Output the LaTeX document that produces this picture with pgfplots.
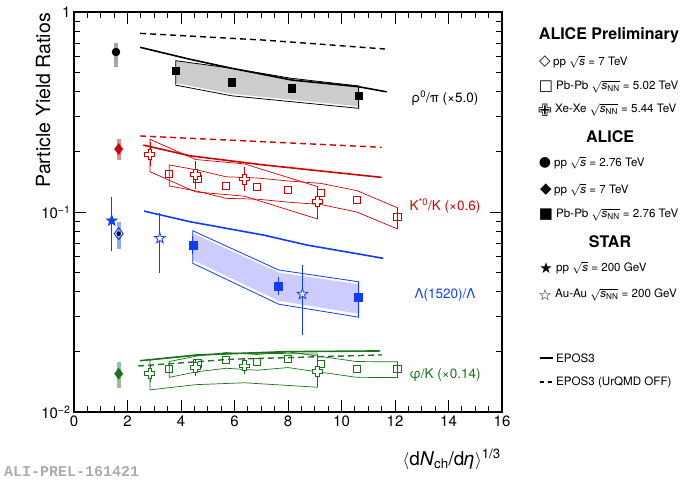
\documentclass[border=0pt]{standalone}
\usepackage{pgfplots}
\pgfplotsset{compat=1.18}
\usepackage{fontspec}
\setmainfont{TeX Gyre Heros}
\newfontfamily\symfont{DejaVu Sans}
\newfontfamily\alifont{Liberation Mono}
\usetikzlibrary{plotmarks}
\definecolor{cred}{RGB}{210,0,0}
\definecolor{cblue}{RGB}{15,60,255}
\definecolor{cgreen}{RGB}{25,115,25}
\definecolor{cbfill}{RGB}{204,204,255}
\definecolor{cgfill}{RGB}{204,204,204}
\pgfdeclareplotmark{ocross}{%
  \pgfpathmoveto{\pgfqpoint{-0.35\pgfplotmarksize}{\pgfplotmarksize}}%
  \pgfpathlineto{\pgfqpoint{0.35\pgfplotmarksize}{\pgfplotmarksize}}%
  \pgfpathlineto{\pgfqpoint{0.35\pgfplotmarksize}{0.35\pgfplotmarksize}}%
  \pgfpathlineto{\pgfqpoint{\pgfplotmarksize}{0.35\pgfplotmarksize}}%
  \pgfpathlineto{\pgfqpoint{\pgfplotmarksize}{-0.35\pgfplotmarksize}}%
  \pgfpathlineto{\pgfqpoint{0.35\pgfplotmarksize}{-0.35\pgfplotmarksize}}%
  \pgfpathlineto{\pgfqpoint{0.35\pgfplotmarksize}{-\pgfplotmarksize}}%
  \pgfpathlineto{\pgfqpoint{-0.35\pgfplotmarksize}{-\pgfplotmarksize}}%
  \pgfpathlineto{\pgfqpoint{-0.35\pgfplotmarksize}{-0.35\pgfplotmarksize}}%
  \pgfpathlineto{\pgfqpoint{-\pgfplotmarksize}{-0.35\pgfplotmarksize}}%
  \pgfpathlineto{\pgfqpoint{-\pgfplotmarksize}{0.35\pgfplotmarksize}}%
  \pgfpathlineto{\pgfqpoint{-0.35\pgfplotmarksize}{0.35\pgfplotmarksize}}%
  \pgfpathclose
  \pgfusepathqfillstroke}
\pgfdeclareplotmark{fstar}{%
  \pgfpathmoveto{\pgfpointpolar{90}{\pgfplotmarksize}}%
  \pgfpathlineto{\pgfpointpolar{126}{0.4\pgfplotmarksize}}%
  \pgfpathlineto{\pgfpointpolar{162}{\pgfplotmarksize}}%
  \pgfpathlineto{\pgfpointpolar{198}{0.4\pgfplotmarksize}}%
  \pgfpathlineto{\pgfpointpolar{234}{\pgfplotmarksize}}%
  \pgfpathlineto{\pgfpointpolar{270}{0.4\pgfplotmarksize}}%
  \pgfpathlineto{\pgfpointpolar{306}{\pgfplotmarksize}}%
  \pgfpathlineto{\pgfpointpolar{342}{0.4\pgfplotmarksize}}%
  \pgfpathlineto{\pgfpointpolar{18}{\pgfplotmarksize}}%
  \pgfpathlineto{\pgfpointpolar{54}{0.4\pgfplotmarksize}}%
  \pgfpathclose
  \pgfusepathqfillstroke}
\newcommand\rs[1]{$\sqrt{\hbox{\itshape #1}}$}
\begin{document}
\begin{tikzpicture}
\path[use as bounding box] (0,0) rectangle (682pt,485pt);
\begin{axis}[
  at={(74pt,73pt)}, anchor=south west,
  scale only axis, width=428pt, height=400pt,
  xmin=0, xmax=16, ymin=0.01, ymax=1, ymode=log,
  xtick={0,2,...,16}, minor x tick num=3,
  ytick={0.01,0.1,1},
  yticklabels={10\textsuperscript{−2},10\textsuperscript{−1},1},
  minor ytick={0.02,0.03,0.04,0.05,0.06,0.07,0.08,0.09,0.2,0.3,0.4,0.5,0.6,0.7,0.8,0.9},
  tick align=inside,
  major tick length=12pt, minor tick length=6pt,
  axis line style={line width=1.2pt},
  every tick/.style={black, line width=0.8pt},
  tick label style={font=\fontsize{15}{15}\selectfont},
  /pgf/number format/assume math mode=true,
]
% ---- bands ----
\addplot[fill=cgfill, draw=none] coordinates {(3.80,0.571)(5.90,0.523)(8.14,0.466)(10.64,0.427)(10.64,0.338)(8.14,0.364)(5.90,0.390)(3.80,0.441)} -- cycle;
\addplot[black, line width=0.8pt] coordinates {(3.80,0.571)(5.90,0.523)(8.14,0.466)(10.64,0.427)(10.64,0.330)(8.14,0.356)(5.90,0.381)(3.80,0.431)} -- cycle;
\addplot[fill=cbfill, draw=none] coordinates {(4.44,0.0782)(7.65,0.0498)(10.64,0.0435)(10.64,0.0310)(7.65,0.0360)(4.44,0.0576)} -- cycle;
\addplot[cblue, line width=0.8pt] coordinates {(4.44,0.0806)(7.65,0.0513)(10.64,0.0448)(10.64,0.0298)(7.65,0.0346)(4.44,0.0554)} -- cycle;
\addplot[cred, line width=0.7pt] coordinates {(2.84,0.231)(4.55,0.183)(6.37,0.174)(9.10,0.134)(9.10,0.0923)(6.37,0.120)(4.55,0.126)(2.84,0.159)} -- cycle;
\addplot[cred, line width=0.7pt] coordinates {(3.56,0.172)(4.62,0.162)(5.69,0.150)(6.83,0.148)(8.0,0.143)(9.23,0.139)(10.57,0.128)(12.09,0.105)(12.09,0.0823)(10.57,0.100)(9.23,0.109)(8.0,0.112)(6.83,0.116)(5.69,0.117)(4.62,0.127)(3.56,0.135)} -- cycle;
\addplot[cgreen, line width=0.7pt] coordinates {(2.84,0.0182)(4.55,0.0192)(6.37,0.0197)(9.10,0.0195)(9.10,0.0133)(6.37,0.0140)(4.55,0.0137)(2.84,0.0129)} -- cycle;
\addplot[cgreen, line width=0.7pt] coordinates {(3.56,0.01788)(4.62,0.01908)(5.69,0.01984)(6.83,0.0194)(8.0,0.0200)(9.23,0.01894)(10.57,0.01788)(12.09,0.01782)(12.09,0.01486)(10.57,0.01491)(9.23,0.0158)(8.0,0.01668)(6.83,0.01618)(5.69,0.01655)(4.62,0.01591)(3.56,0.01491)} -- cycle;
% ---- EPOS3 lines ----
\addplot[black, line width=1.6pt] coordinates {(2.47,0.666)(4.34,0.580)(5.90,0.523)(8.14,0.457)(10.64,0.423)(11.69,0.399)};
\addplot[black, line width=1.4pt, dash pattern=on 6pt off 4pt] coordinates {(2.47,0.782)(4.5,0.756)(7.08,0.724)(9.5,0.686)(11.63,0.653)};
\addplot[cred, line width=1.6pt] coordinates {(2.59,0.216)(4.34,0.191)(7.08,0.172)(11.50,0.149)};
\addplot[cred, line width=1.4pt, dash pattern=on 6pt off 4pt] coordinates {(2.47,0.240)(7.08,0.2246)(11.5,0.2107)};
\addplot[cblue, line width=1.6pt] coordinates {(2.62,0.101)(4.34,0.0894)(7.08,0.0767)(8.70,0.0684)(11.56,0.0587)};
\addplot[cgreen, line width=1.6pt] coordinates {(2.47,0.01805)(4.59,0.01928)(7.86,0.02002)(11.44,0.0202)};
\addplot[cgreen, line width=1.4pt, dash pattern=on 6pt off 4pt] coordinates {(2.40,0.01698)(5.83,0.01835)(11.50,0.0193)};
% ---- systematic boxes of pp points ----
\addplot[only marks, mark=none, error bars/.cd, y dir=both, y explicit, error mark=none, error bar style={line width=3.5pt, gray!70}] coordinates {(1.57,0.631) += (0,0.071) -= (0,0.098)};
\addplot[only marks, mark=none, error bars/.cd, y dir=both, y explicit, error mark=none, error bar style={line width=4pt, cred!45}] coordinates {(1.67,0.2065) +- (0,0.0245)};
\addplot[only marks, mark=none, error bars/.cd, y dir=both, y explicit, error mark=none, error bar style={line width=4pt, cblue!45}] coordinates {(1.67,0.0779) += (0,0.0115) -= (0,0.0126)};
\addplot[only marks, mark=none, error bars/.cd, y dir=both, y explicit, error mark=none, error bar style={line width=4pt, cgreen!45}] coordinates {(1.67,0.01554) += (0,0.0023) -= (0,0.0024)};
% ---- data points ----
% rho0/pi
\addplot[only marks, mark=*, mark size=4pt, black] coordinates {(1.57,0.631)};
\addplot[only marks, mark=square*, mark size=3.7pt, black] coordinates {(3.80,0.508)(5.90,0.445)(8.14,0.415)(10.64,0.381)};
% K*0/K
\addplot[only marks, mark=diamond*, mark size=5.5pt, cred] coordinates {(1.67,0.2065)};
\addplot[only marks, mark=square, mark size=3.6pt, cred, line width=1pt, mark options={fill=white}] coordinates {(3.56,0.155)(4.62,0.146)(5.69,0.135)(6.83,0.133)(8.0,0.129)(9.23,0.125)(10.57,0.115)(12.09,0.0947)};
\addplot[only marks, mark=ocross, mark size=5pt, cred, line width=1pt, mark options={fill=white},
  error bars/.cd, y dir=both, y explicit, error bar style={line width=0.8pt}, error mark options={mark size=2pt, line width=0.8pt}]
  coordinates {(2.84,0.194) += (0,0.0237) -= (0,0.021) (4.55,0.154) += (0,0.0228) -= (0,0.0199) (6.37,0.146) += (0,0.0178) -= (0,0.0159) (9.10,0.1126) += (0,0.0197) -= (0,0.0168)};
% Lambda(1520)/Lambda
\addplot[only marks, mark=fstar, mark size=5.5pt, cblue, line width=0.8pt, mark options={fill=cblue},
  error bars/.cd, y dir=both, y explicit, error bar style={line width=0.8pt}, error mark options={mark size=2pt, line width=0.8pt}]
  coordinates {(1.41,0.0905) += (0,0.0255) -= (0,0.0254)};
\addplot[only marks, mark=fstar, mark size=5.5pt, cblue, line width=0.8pt, mark options={fill=white},
  error bars/.cd, y dir=both, y explicit, error bar style={line width=0.8pt}, error mark options={mark size=2pt, line width=0.8pt}]
  coordinates {(3.21,0.0739) += (0,0.0227) -= (0,0.0232) (8.54,0.0389) += (0,0.0144) -= (0,0.0142)};
\addplot[only marks, mark=diamond, mark size=6pt, cblue, line width=1pt, mark options={fill=white}] coordinates {(1.67,0.0779)};
\addplot[only marks, mark=square*, mark size=4pt, cblue,
  error bars/.cd, y dir=both, y explicit, error bar style={line width=0.8pt}, error mark options={mark size=2pt, line width=0.8pt}]
  coordinates {(4.44,0.0684) += (0,0.0058) -= (0,0.0053) (7.65,0.0428) +- (0,0.0036) (10.64,0.0373) += (0,0.0050) -= (0,0.0044)};
% phi/K
\addplot[only marks, mark=diamond*, mark size=5.5pt, cgreen] coordinates {(1.67,0.01554)};
\addplot[only marks, mark=square, mark size=3.6pt, cgreen, line width=1pt, mark options={fill=white}] coordinates {(3.56,0.0164)(4.62,0.0175)(5.69,0.0182)(6.83,0.0178)(8.0,0.01835)(9.23,0.01738)(10.57,0.0164)(12.09,0.01635)};
\addplot[only marks, mark=ocross, mark size=5pt, cgreen, line width=1pt, mark options={fill=white},
  error bars/.cd, y dir=both, y explicit, error bar style={line width=0.8pt}, error mark options={mark size=2pt, line width=0.8pt}]
  coordinates {(2.84,0.0156) +- (0,0.0011) (4.55,0.01665) +- (0,0.0012) (6.37,0.0170) +- (0,0.0012) (9.10,0.01597) +- (0,0.0013)};
\end{axis}
\begin{scope}[x=1pt, y=-1pt, yshift=485pt, every node/.style={inner sep=0pt}]
% axis titles
\node[rotate=90, anchor=base east, font=\fontsize{19.5}{20}\selectfont] at (50,13) {Particle Yield Ratios};
\node[anchor=base east, font=\fontsize{19}{20}\selectfont] at (501,465) {$\langle$d\textit{N}\textsubscript{ch}/d\textit{η}$\rangle$\textsuperscript{1/3}};
\node[anchor=base west, font=\alifont\bfseries\fontsize{15}{15}\selectfont, text=gray!65] at (4,476) {ALI-PREL-161421};
% series labels
\node[font=\fontsize{13.5}{14}\selectfont, text=black] at (445,98) {ρ\textsuperscript{0}/π (×5.0)};
\node[font=\fontsize{13.5}{14}\selectfont, text=cred] at (445,206) {K\textsuperscript{*0}/K (×0.6)};
\node[font=\fontsize{13.5}{14}\selectfont, text=cblue] at (445,295) {Λ(1520)/Λ};
\node[font=\fontsize{13.5}{14}\selectfont, text=cgreen] at (445,375) {φ/K (×0.14)};
% legend
\begin{scope}[every node/.append style={font=\fontsize{11.6}{14}\selectfont}]
\node[font=\fontsize{16}{18}\selectfont\bfseries] at (609,35) {ALICE Preliminary};
\node[font=\symfont\fontsize{15}{16}\selectfont] at (545,62) {◇};
\node[anchor=west] at (553,62) {pp \rs{s} = 7 TeV};
\node[font=\symfont\fontsize{15}{16}\selectfont] at (546,87) {□};
\node[anchor=west] at (556,87) {Pb-Pb \rs{s\textsubscript{\upshape NN}} = 5.02 TeV};
\node[font=\symfont\fontsize{17}{18}\selectfont] at (545,110) {✙};
\node[anchor=west] at (555,110) {Xe-Xe \rs{s\textsubscript{\upshape NN}} = 5.44 TeV};
\node[font=\fontsize{16}{18}\selectfont\bfseries] at (610,137) {ALICE};
\node[font=\symfont\fontsize{14}{16}\selectfont] at (545,163) {●};
\node[anchor=west] at (554,163) {pp \rs{s} = 2.76 TeV};
\node[font=\symfont\fontsize{15}{16}\selectfont] at (546,190) {◆};
\node[anchor=west] at (554,190) {pp \rs{s} = 7 TeV};
\node[font=\symfont\fontsize{15}{16}\selectfont] at (546,215) {■};
\node[anchor=west] at (556,215) {Pb-Pb \rs{s\textsubscript{\upshape NN}} = 2.76 TeV};
\node[font=\fontsize{16}{18}\selectfont\bfseries] at (610,242) {STAR};
\node[font=\symfont\fontsize{15}{16}\selectfont] at (546,268) {★};
\node[anchor=west] at (556,268) {pp \rs{s} = 200 GeV};
\node[font=\symfont\fontsize{15}{16}\selectfont] at (545,295) {☆};
\node[anchor=west] at (555,295) {Au-Au \rs{s\textsubscript{\upshape NN}} = 200 GeV};
\node at (546,358) {\rule{13pt}{1.8pt}};
\node[anchor=west] at (556,358) {EPOS3};
\node at (546,382) {\rule{4pt}{1.8pt}\hspace{3.5pt}\rule{4pt}{1.8pt}};
\node[anchor=west] at (556,382) {EPOS3 (UrQMD OFF)};
\end{scope}
\end{scope}
\end{tikzpicture}
\end{document}
